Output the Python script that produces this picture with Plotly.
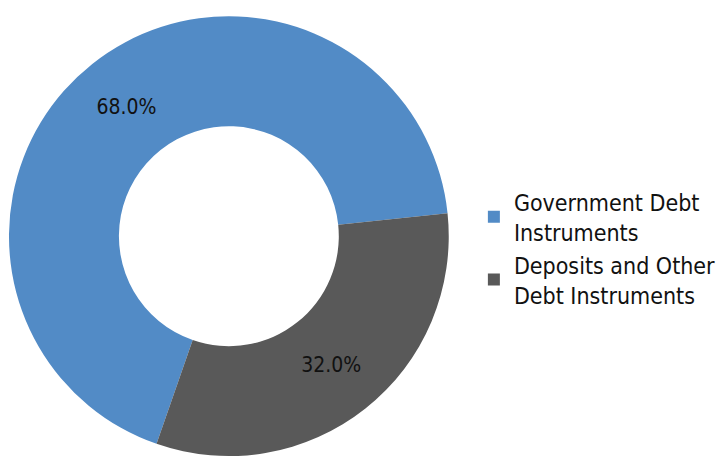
import plotly.graph_objects as go

labels = ["Government Debt<br>Instruments", "Deposits and Other<br>Debt Instruments"]
values = [68.0, 32.0]
colors = ["#528bc6", "#595959"]

FONT = "DejaVu Sans Condensed, Liberation Sans Narrow, sans-serif"

fig = go.Figure(
    go.Pie(
        labels=labels,
        values=values,
        hole=0.5,
        sort=False,
        direction="clockwise",
        rotation=-160.8,
        marker=dict(colors=colors, line=dict(width=0)),
        texttemplate="%{percent:.1%}",
        textposition="inside",
        insidetextorientation="horizontal",
        textfont=dict(family=FONT, size=21, color="#111111"),
        domain=dict(x=[0.0125, 0.625], y=[0.006, 0.967]),
        hoverinfo="label+percent",
    )
)

fig.update_layout(
    width=721,
    height=460,
    margin=dict(l=0, r=0, t=0, b=0),
    paper_bgcolor="white",
    plot_bgcolor="white",
    showlegend=True,
    legend=dict(
        x=0.66,
        y=0.46,
        xanchor="left",
        yanchor="middle",
        font=dict(family=FONT, size=23, color="#111111"),
        itemsizing="constant",
    ),
)

fig.write_html("out.html")
